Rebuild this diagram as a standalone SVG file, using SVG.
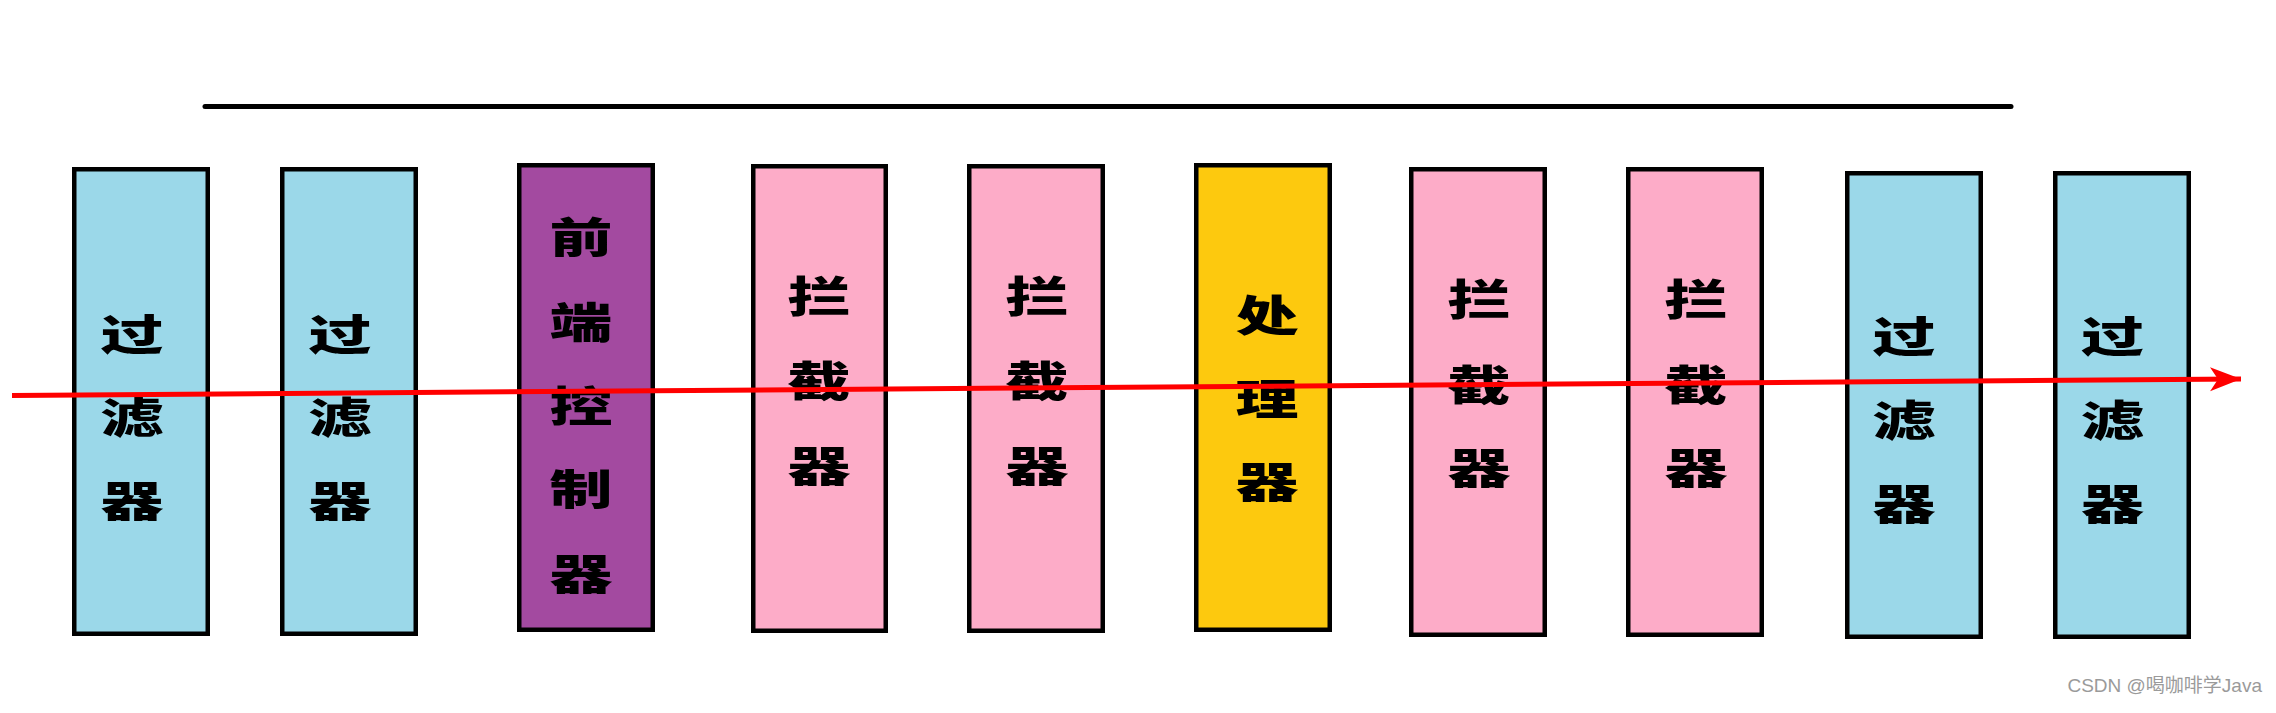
<svg xmlns="http://www.w3.org/2000/svg" width="2276" height="713" viewBox="0 0 2276 713">
<style>
.box{stroke:#000;stroke-width:4.5}
.blue{fill:#9BD8E9}.purple{fill:#A34AA0}.pink{fill:#FDACC8}.yellow{fill:#FDC90E}
.lbl{font-family:"Noto Sans CJK SC","Noto Sans CJK TC",sans-serif;font-weight:900;font-size:42px;fill:#000;text-anchor:middle;dominant-baseline:central}
.wm{font-family:"Liberation Sans","Noto Sans CJK SC",sans-serif;font-size:19px;fill:#9a9a9a;text-anchor:end}
</style>
<defs>
<marker id="ah" markerUnits="userSpaceOnUse" markerWidth="34" markerHeight="28" refX="31" refY="12" orient="auto" viewBox="0 0 34 28">
<polygon points="31,12 0,0 8,12 0,24" fill="#FF0000"/>
</marker>
</defs>
<rect width="2276" height="713" fill="#fff"/>
<line x1="205" y1="106.5" x2="2011" y2="106.5" stroke="#000" stroke-width="5" stroke-linecap="round"/>
<g id="n1"><rect class="box blue" x="74.25" y="169.25" width="133.5" height="464.5"/>
<text class="lbl" transform="translate(132,331.5) scale(1.5,1)">过</text>
<text class="lbl" transform="translate(132,415) scale(1.5,1)">滤</text>
<text class="lbl" transform="translate(132,498.5) scale(1.5,1)">器</text></g>
<g id="n2"><rect class="box blue" x="282.25" y="169.25" width="133.5" height="464.5"/>
<text class="lbl" transform="translate(340,331.5) scale(1.5,1)">过</text>
<text class="lbl" transform="translate(340,415) scale(1.5,1)">滤</text>
<text class="lbl" transform="translate(340,498.5) scale(1.5,1)">器</text></g>
<g id="n3"><rect class="box purple" x="519.25" y="165.25" width="133.5" height="464.5"/>
<text class="lbl" transform="translate(581,235) scale(1.5,1)">前</text>
<text class="lbl" transform="translate(581,320) scale(1.5,1)">端</text>
<text class="lbl" transform="translate(581,403.5) scale(1.5,1)">控</text>
<text class="lbl" transform="translate(581,486.5) scale(1.5,1)">制</text>
<text class="lbl" transform="translate(581,571.5) scale(1.5,1)">器</text></g>
<g id="n4"><rect class="box pink" x="753.25" y="166.25" width="132.5" height="464.5"/>
<text class="lbl" transform="translate(819,294) scale(1.5,1)">拦</text>
<text class="lbl" transform="translate(819,379) scale(1.5,1)">截</text>
<text class="lbl" transform="translate(819,463.5) scale(1.5,1)">器</text></g>
<g id="n5"><rect class="box pink" x="969.25" y="166.25" width="133.5" height="464.5"/>
<text class="lbl" transform="translate(1037,294) scale(1.5,1)">拦</text>
<text class="lbl" transform="translate(1037,379) scale(1.5,1)">截</text>
<text class="lbl" transform="translate(1037,463.5) scale(1.5,1)">器</text></g>
<g id="n6"><rect class="box yellow" x="1196.25" y="165.25" width="133.5" height="464.5"/>
<text class="lbl" transform="translate(1267,312.5) scale(1.5,1)">处</text>
<text class="lbl" transform="translate(1267,396.5) scale(1.5,1)">理</text>
<text class="lbl" transform="translate(1267,480) scale(1.5,1)">器</text></g>
<g id="n7"><rect class="box pink" x="1411.25" y="169.25" width="133.5" height="465.5"/>
<text class="lbl" transform="translate(1479,297) scale(1.5,1)">拦</text>
<text class="lbl" transform="translate(1479,382.5) scale(1.5,1)">截</text>
<text class="lbl" transform="translate(1479,465.5) scale(1.5,1)">器</text></g>
<g id="n8"><rect class="box pink" x="1628.25" y="169.25" width="133.5" height="465.5"/>
<text class="lbl" transform="translate(1696,297) scale(1.5,1)">拦</text>
<text class="lbl" transform="translate(1696,382.5) scale(1.5,1)">截</text>
<text class="lbl" transform="translate(1696,465.5) scale(1.5,1)">器</text></g>
<g id="n9"><rect class="box blue" x="1847.25" y="173.25" width="133.5" height="463.5"/>
<text class="lbl" transform="translate(1904,333.5) scale(1.5,1)">过</text>
<text class="lbl" transform="translate(1904,417.5) scale(1.5,1)">滤</text>
<text class="lbl" transform="translate(1904,501.5) scale(1.5,1)">器</text></g>
<g id="n10"><rect class="box blue" x="2055.25" y="173.25" width="133.5" height="463.5"/>
<text class="lbl" transform="translate(2112.5,333.5) scale(1.5,1)">过</text>
<text class="lbl" transform="translate(2112.5,417.5) scale(1.5,1)">滤</text>
<text class="lbl" transform="translate(2112.5,501.5) scale(1.5,1)">器</text></g>
<g id="connectors">
<line x1="12" y1="395.5" x2="2241" y2="379" stroke="#FF0000" stroke-width="5" marker-end="url(#ah)"/>
</g>
<text class="wm" x="2262" y="692">CSDN @喝咖啡学Java</text>
</svg>
